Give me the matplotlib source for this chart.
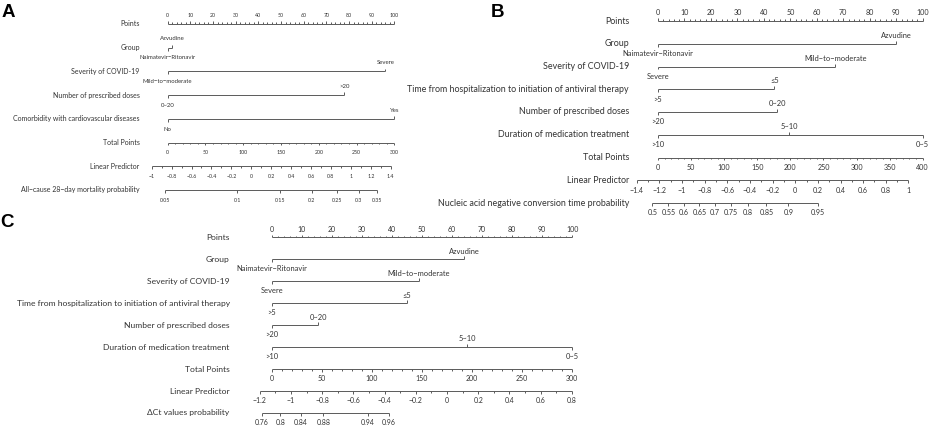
import numpy as np
import matplotlib.pyplot as plt

plt.rcParams['font.family'] = ['Lato', 'DejaVu Sans']

W, H = 934, 430
LINE = '#5a5a5a'
TEXT = '#333333'

# ---------------- A: all-cause 28-day mortality ----------------
a_vars = ['Group', 'Severity of COVID-19', 'Number of prescribed doses',
          'Comorbidity with cardiovascular diseases']
a_levels = [['Naimatevir−Ritonavir', 'Azvudine'],
            ['Mild−to−moderate', 'Severe'],
            ['0~20', '>20'],
            ['No', 'Yes']]
a_points = [[0, 2], [0, 96], [0, 78], [0, 100]]
a_total_max = 300
a_lp_ticks = [-1, -0.8, -0.6, -0.4, -0.2, 0, 0.2, 0.4, 0.6, 0.8, 1, 1.2, 1.4]
a_lp_start, a_lp_slope = -0.839, 0.007584      # LP at 0 total points, LP per point
a_prob_ticks = [0.05, 0.1, 0.15, 0.2, 0.25, 0.3, 0.35]
a_log_h0 = -2.109
a_prob_label = 'All−cause 28−day mortality probability'

# ---------------- B: nucleic acid negative conversion ----------------
b_vars = ['Group', 'Severity of COVID-19',
          'Time from hospitalization to initiation of antiviral therapy',
          'Number of prescribed doses', 'Duration of medication treatment']
b_levels = [['Naimatevir−Ritonavir', 'Azvudine'],
            ['Severe', 'Mild−to−moderate'],
            ['>5', '≤5'],
            ['>20', '0~20'],
            ['>10', '5~10', '0~5']]
b_points = [[0, 90], [0, 67], [0, 44], [0, 45], [0, 49.5, 100]]
b_total_max = 400
b_lp_ticks = [-1.4, -1.2, -1, -0.8, -0.6, -0.4, -0.2, 0, 0.2, 0.4, 0.6, 0.8, 1]
b_lp_start, b_lp_slope = -1.212, 0.005845
b_prob_ticks = [0.5, 0.55, 0.6, 0.65, 0.7, 0.75, 0.8, 0.85, 0.9, 0.95]
b_log_h0 = 0.895
b_prob_label = 'Nucleic acid negative conversion time probability'

# ---------------- C: delta Ct values ----------------
c_vars = b_vars
c_levels = b_levels
c_points = [[0, 64], [0, 49], [0, 45], [0, 15.5], [0, 65, 100]]
c_total_max = 300
c_lp_ticks = [-1.2, -1, -0.8, -0.6, -0.4, -0.2, 0, 0.2, 0.4, 0.6, 0.8]
c_lp_start, c_lp_slope = -1.124, 0.006423
c_prob_ticks = [0.76, 0.8, 0.84, 0.88, 0.94, 0.96]
c_log_h0 = 1.544
c_prob_label = 'ΔCt values probability'


def fmt(v):
    return f'{round(v, 2):g}'.replace('-', '−')


fig = plt.figure(figsize=(W / 100, H / 100), dpi=100)


def nomogram(px0, px100, y0, dy, var_names, levels, pts, total_max,
             lp_ticks, lp_start, lp_slope, prob_ticks, log_h0, prob_label,
             label_gap, fs_row, fs_tick, fs_level):
    ax = fig.add_axes([0, 0, 1, 1])
    ppp = (px100 - px0) / 100
    ax.set_xlim(-px0 / ppp, (W - px0) / ppp)
    ax.set_ylim((H - y0) / dy, -y0 / dy)
    ax.axis('off')
    ax.patch.set_alpha(0)

    tl, tm = 2.8 / dy, 1.6 / dy
    up, down = -0.37, 0.43
    xl = -label_gap / ppp
    kw = dict(color=LINE, lw=0.7, solid_capstyle='butt')

    def row_label(row, text):
        ax.text(xl, row, text, ha='right', va='center', fontsize=fs_row, color=TEXT)

    def axis_row(row, pos, labels, minor, side, fs):
        allp = list(pos) + list(minor)
        ax.plot([min(allp), max(allp)], [row, row], **kw)
        sgn = -1 if side == 'above' else 1
        for p, t in zip(pos, labels):
            ax.plot([p, p], [row, row + sgn * tl], **kw)
            ax.text(p, row + (up if side == 'above' else down), t, ha='center',
                    va='center', fontsize=fs, color=TEXT)
        for p in minor:
            ax.plot([p, p], [row, row + sgn * tm], **kw)

    # points
    row_label(0, 'Points')
    pt_major = np.arange(0, 101, 10)
    pt_minor = [v for v in np.arange(0, 101, 2) if v % 10]
    axis_row(0, pt_major, [fmt(v) for v in pt_major], pt_minor, 'above', fs_tick)

    # predictors
    for i, (name, levs, p) in enumerate(zip(var_names, levels, pts), start=1):
        row_label(i, name)
        ax.plot([min(p), max(p)], [i, i], **kw)
        for j, (lev, x) in enumerate(zip(levs, p)):
            sgn = 1 if j % 2 == 0 else -1
            ax.plot([x, x], [i, i + sgn * tl], **kw)
            ax.text(x, i + (down if sgn > 0 else up), lev, ha='center',
                    va='center', fontsize=fs_level, color=TEXT)

    n = len(var_names)
    scale = 100 / total_max

    # total points
    row_label(n + 1, 'Total Points')
    tp = np.arange(0, total_max + 1, 50)
    tp_minor = [v for v in np.arange(0, total_max + 1, 10) if v % 50]
    axis_row(n + 1, tp * scale, [fmt(v) for v in tp],
             np.array(tp_minor) * scale, 'below', fs_tick)

    # linear predictor
    def lp_to_pts(lp):
        return (np.asarray(lp) - lp_start) / lp_slope * scale

    row_label(n + 2, 'Linear Predictor')
    lp = np.array(lp_ticks)
    lp_minor = (lp[:-1] + lp[1:]) / 2
    axis_row(n + 2, lp_to_pts(lp), [fmt(v) for v in lp], lp_to_pts(lp_minor),
             'below', fs_tick)

    # probability (cloglog link)
    row_label(n + 3, prob_label)
    pr = np.array(prob_ticks)
    pr_lp = np.log(-np.log(1 - pr)) - log_h0
    axis_row(n + 3, lp_to_pts(pr_lp), [fmt(v) for v in pr], [], 'below', fs_tick)


nomogram(167.7, 394.3, 24, 23.71, a_vars, a_levels, a_points, a_total_max,
         a_lp_ticks, a_lp_start, a_lp_slope, a_prob_ticks, a_log_h0, a_prob_label,
         label_gap=28, fs_row=5.0, fs_tick=3.8, fs_level=4.3)
nomogram(658, 922.7, 21, 22.75, b_vars, b_levels, b_points, b_total_max,
         b_lp_ticks, b_lp_start, b_lp_slope, b_prob_ticks, b_log_h0, b_prob_label,
         label_gap=29, fs_row=6.4, fs_tick=5.1, fs_level=5.4)
nomogram(271.7, 572.3, 237.3, 21.96, c_vars, c_levels, c_points, c_total_max,
         c_lp_ticks, c_lp_start, c_lp_slope, c_prob_ticks, c_log_h0, c_prob_label,
         label_gap=42, fs_row=6.1, fs_tick=5.0, fs_level=5.4)

for letter, x, y in [('A', 2, 4), ('B', 491, 4), ('C', 0, 214)]:
    fig.text(x / W, 1 - y / H, letter, ha='left', va='top', fontsize=13.5,
             fontweight='bold', family='Liberation Sans', color='black')

fig.savefig('out.png', dpi=100)
